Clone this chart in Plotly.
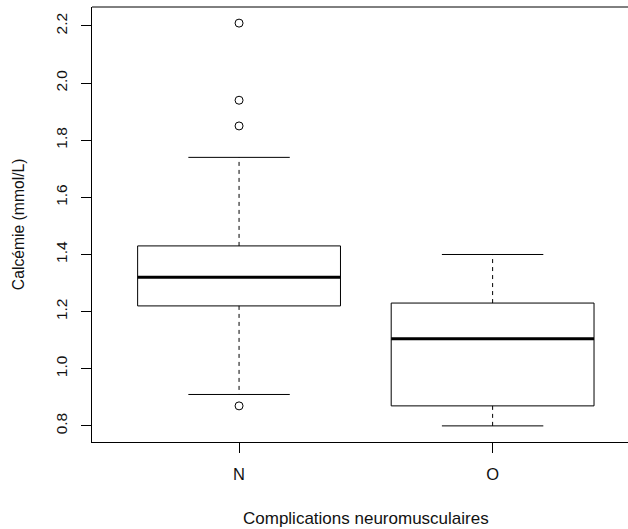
import plotly.graph_objects as go

groups = ["N", "O"]
q1 = [1.22, 0.87]
median = [1.32, 1.105]
q3 = [1.43, 1.23]
lower_whisker = [0.91, 0.80]
upper_whisker = [1.74, 1.40]
outliers = [[2.21, 1.94, 1.85, 0.87], []]
y_ticks = [0.8, 1.0, 1.2, 1.4, 1.6, 1.8, 2.0, 2.2]
y_title = "Calcémie (mmol/L)"
x_title = "Complications neuromusculaires"

FONT = "Liberation Sans, Arial, sans-serif"
FS = 16
BOX_HALF = 0.4
CAP_HALF = 0.2

fig = go.Figure()
line = dict(color="black", width=1)
for i, g in enumerate(groups):
    x = i + 1
    fig.add_trace(go.Scatter(x=[x - BOX_HALF, x + BOX_HALF, x + BOX_HALF, x - BOX_HALF, x - BOX_HALF],
                             y=[q1[i], q1[i], q3[i], q3[i], q1[i]], mode="lines", line=line))
    fig.add_trace(go.Scatter(x=[x - BOX_HALF, x + BOX_HALF], y=[median[i], median[i]], mode="lines",
                             line=dict(color="black", width=3)))
    fig.add_trace(go.Scatter(x=[x, x], y=[q3[i], upper_whisker[i]], mode="lines",
                             line=dict(color="black", width=1, dash="4px,4px")))
    fig.add_trace(go.Scatter(x=[x, x], y=[q1[i], lower_whisker[i]], mode="lines",
                             line=dict(color="black", width=1, dash="4px,4px")))
    for v in (upper_whisker[i], lower_whisker[i]):
        fig.add_trace(go.Scatter(x=[x - CAP_HALF, x + CAP_HALF], y=[v, v], mode="lines", line=line))
    if outliers[i]:
        fig.add_trace(go.Scatter(x=[x] * len(outliers[i]), y=outliers[i], mode="markers",
                                 marker=dict(symbol="circle-open", size=8, color="black",
                                             line=dict(width=1, color="black"))))

plot_h = 529 - 6.7 - 87.3
plot_w = 628 - 92.3

fig.update_layout(
    width=628, height=529,
    margin=dict(l=92.3, r=0, t=6.7, b=87.3, pad=0),
    plot_bgcolor="white", paper_bgcolor="white",
    showlegend=False,
    font=dict(family=FONT, size=FS, color="#111"),
    xaxis=dict(range=[0.42, 2.534], tickvals=[1, 2], ticktext=groups, showgrid=False, zeroline=False,
               showline=True, linecolor="black", linewidth=1, ticks="outside", ticklen=10,
               tickcolor="black", ticklabelstandoff=7, tickfont=dict(size=16.5, family=FONT)),
    yaxis=dict(range=[0.7436, 2.2664], tickvals=y_ticks, tickformat=".1f", showgrid=False,
               zeroline=False, showline=True, linecolor="black", linewidth=1, ticks="outside",
               ticklen=10, tickcolor="black", tickangle=-90, ticklabelstandoff=8,
               tickfont=dict(size=15.5, family=FONT)),
    shapes=[dict(type="line", xref="paper", yref="paper", x0=0, x1=1, y0=1, y1=1,
                 line=dict(color="black", width=1))],
    annotations=[
        dict(text=x_title, x=1.5, xref="x", y=(529 - 87.3 - 518) / plot_h, yref="paper",
             yanchor="middle", showarrow=False, font=dict(size=17, family=FONT)),
        dict(text=y_title, x=(19 - 92.3) / plot_w, xref="paper", xanchor="center", y=0.5,
             yref="paper", textangle=-90, showarrow=False, font=dict(size=15.7, family=FONT)),
    ],
)

fig.write_html("out.html")
